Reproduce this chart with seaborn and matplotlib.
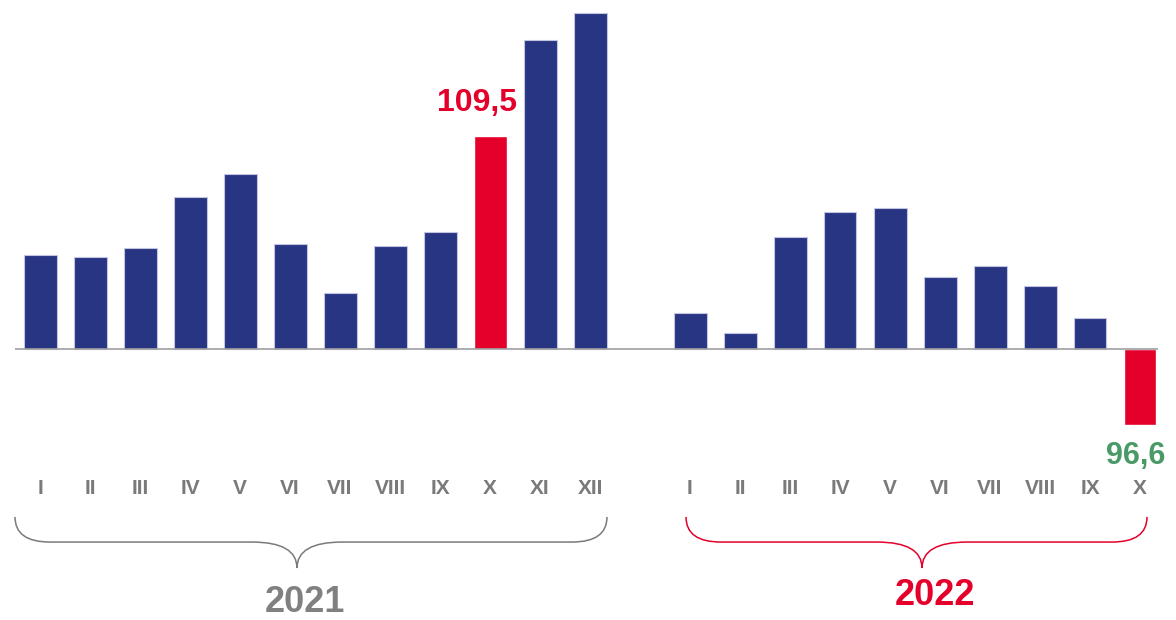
import matplotlib.pyplot as plt
import numpy as np
import pandas as pd
import seaborn as sns
from matplotlib.path import Path
from matplotlib.patches import PathPatch

# ----DATA----
months_2021 = ["I", "II", "III", "IV", "V", "VI", "VII", "VIII", "IX", "X", "XI", "XII"]
values_2021 = [104.2, 104.1, 104.5, 106.8, 107.8, 104.7, 102.5, 104.6, 105.2, 109.5, 113.8, 115.0]
months_2022 = ["I", "II", "III", "IV", "V", "VI", "VII", "VIII", "IX", "X"]
values_2022 = [101.6, 100.7, 105.0, 106.1, 106.3, 103.2, 103.7, 102.8, 101.4, 96.6]
years = ["2021", "2022"]
highlight_month = "X"
base = 100

navy = "#283583"
red = "#e4002b"
green = "#4a9a68"
gray = "#7a7a7a"

# one empty slot between the two years
pos_2021 = np.arange(len(months_2021))
pos_2022 = np.arange(len(months_2022)) + len(months_2021) + 1

df = pd.DataFrame(
    {
        "pos": np.concatenate([pos_2021, pos_2022]),
        "month": months_2021 + months_2022,
        "value": values_2021 + values_2022,
        "year": [years[0]] * len(months_2021) + [years[1]] * len(months_2022),
    }
)
df["dev"] = df["value"] - base
df["group"] = np.where(df["month"] == highlight_month, "hl", "normal")

sns.set_style("white")
plt.rcParams["font.family"] = ["Liberation Sans", "DejaVu Sans"]

fig = plt.figure(figsize=(11.76, 6.2), dpi=100)
ax = fig.add_axes([0, 0, 1, 1])

sns.barplot(
    data=df,
    x="pos",
    y="dev",
    hue="group",
    palette={"normal": navy, "hl": red},
    native_scale=True,
    dodge=False,
    width=0.66,
    saturation=1,
    legend=False,
    ax=ax,
)
for bar in ax.patches:
    if bar.get_facecolor()[:3] != plt.matplotlib.colors.to_rgb(red):
        bar.set_edgecolor("#c2c5e0")
        bar.set_linewidth(0.8)

ax.set_xlim(-0.8, 22.72)
ax.set_ylim(-12.1, 15.58)
ax.axis("off")

# baseline
ax.hlines(0, -0.5, df["pos"].max() + 0.36, color="#a0a0a0", linewidth=1.2, zorder=3)

# month labels
for p, m in zip(df["pos"], df["month"]):
    ax.text(p, -6.25, m, ha="center", va="center", fontsize=15,
            fontweight="bold", color=gray)

# value labels for highlighted bars
hl = df[df["group"] == "hl"]
r21 = hl[hl["year"] == "2021"].iloc[0]
r22 = hl[hl["year"] == "2022"].iloc[0]
ax.text(r21["pos"] - 0.26, r21["dev"] + 1.5, f"{r21['value']:.1f}".replace(".", ","),
        ha="center", va="center", fontsize=23, fontweight="bold", color=red)
ax.text(r22["pos"] - 0.08, r22["dev"] - 1.4, f"{r22['value']:.1f}".replace(".", ","),
        ha="center", va="center", fontsize=22, fontweight="bold", color=green)


# ----BRACES----
def brace(ax, x0, x1, xt, color, ytop=-7.5, yh=-8.62, ytip=-9.78, rx=0.7, rx2=0.9):
    verts = [
        (x0, ytop),
        (x0, yh), (x0 + rx, yh),
        (xt - rx2, yh),
        (xt, yh), (xt, ytip),
        (xt, yh), (xt + rx2, yh),
        (x1 - rx, yh),
        (x1, yh), (x1, ytop),
    ]
    codes = [
        Path.MOVETO,
        Path.CURVE3, Path.CURVE3,
        Path.LINETO,
        Path.CURVE3, Path.CURVE3,
        Path.CURVE3, Path.CURVE3,
        Path.LINETO,
        Path.CURVE3, Path.CURVE3,
    ]
    ax.add_patch(PathPatch(Path(verts, codes), facecolor="none",
                           edgecolor=color, linewidth=1.1))


brace(ax, pos_2021[0] - 0.5, pos_2021[-1] + 0.34, 5.14, gray)
brace(ax, pos_2022[0] - 0.08, pos_2022[-1] + 0.14, 17.64, red)

ax.text(5.3, -11.3, years[0], ha="center", va="center", fontsize=26,
        fontweight="bold", color="#808080")
ax.text(17.9, -11.0, years[1], ha="center", va="center", fontsize=26,
        fontweight="bold", color=red)

fig.savefig("out.png", dpi=100)
